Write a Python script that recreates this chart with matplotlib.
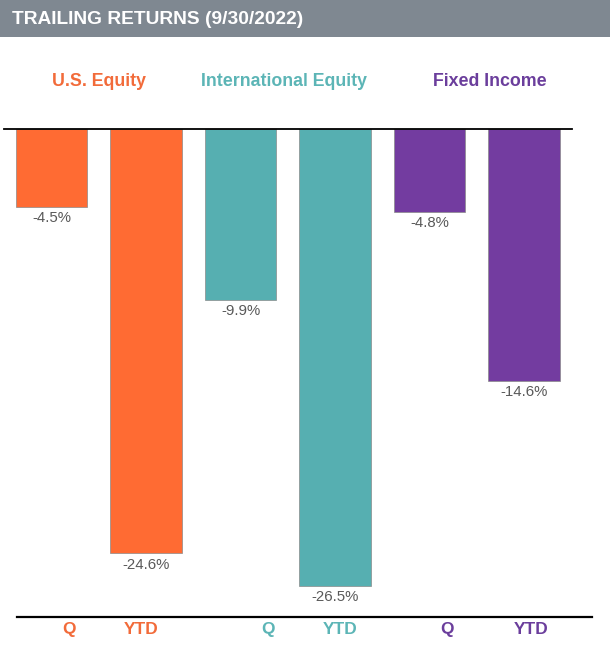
import matplotlib.pyplot as plt
from matplotlib.patches import Rectangle

plt.rcParams['font.family'] = ['Liberation Sans', 'DejaVu Sans']

# data
groups = ['U.S. Equity', 'International Equity', 'Fixed Income']
periods = ['Q', 'YTD']
returns = {
    'U.S. Equity': [-4.5, -24.6],
    'International Equity': [-9.9, -26.5],
    'Fixed Income': [-4.8, -14.6],
}
bar_colors = ['#FF6B33', '#56AFB1', '#733CA0']
label_colors = ['#F26B3A', '#5CB5B6', '#6B3E9C']
title = 'TRAILING RETURNS (9/30/2022)'

W, H = 610, 654
fig = plt.figure(figsize=(W / 100, H / 100), dpi=100)
ax = fig.add_axes([0, 0, 1, 1])

# pixel -> data mapping
x0_px, step_px = 51.5, 94.5
zero_px, px_per_pct = 129, 17.25
ax.set_xlim((0 - x0_px) / step_px, (W - x0_px) / step_px)
ax.set_ylim(-(H - zero_px) / px_per_pct, zero_px / px_per_pct)
ax.axis('off')

# small nudges for the Q / YTD labels and group headings
tick_shift = [[0.19, -0.05], [0.29, 0.05], [0.19, 0.08]]
head_shift = [0.0, -0.04, 0.14]

for g, name in enumerate(groups):
    for p, val in enumerate(returns[name]):
        x = g * 2 + p
        ax.bar(x, val, width=0.76, color=bar_colors[g],
               edgecolor='#8a8a8a', linewidth=0.5, zorder=2)
        ax.text(x, val - 0.25, f'{val:.1f}%', ha='center', va='top',
                fontsize=10.8, color='#595959')
        ax.text(x + tick_shift[g][p], -29.0, periods[p], ha='center', va='center',
                fontsize=12.5, fontweight='bold', color=label_colors[g])
    ax.text(g * 2 + 0.5 + head_shift[g], 2.74, name, ha='center', va='center',
            fontsize=12.8, fontweight='bold', color=label_colors[g])

# zero line and baseline
ax.plot([(4 - x0_px) / step_px, (572 - x0_px) / step_px], [0, 0],
        color='black', linewidth=1.3, zorder=3)
ax.plot([(17 - x0_px) / step_px, (592 - x0_px) / step_px], [-28.29, -28.29],
        color='black', linewidth=1.6, zorder=3)

# header band
fig.patches.append(Rectangle((0, 1 - 37 / H), 1, 37 / H, transform=fig.transFigure,
                             facecolor='#7F8891', edgecolor='none'))
fig.text(12 / W, 1 - 19 / H, title, ha='left', va='center',
         fontsize=13.8, fontweight='bold', color='white')

fig.savefig('out.png', dpi=100)
